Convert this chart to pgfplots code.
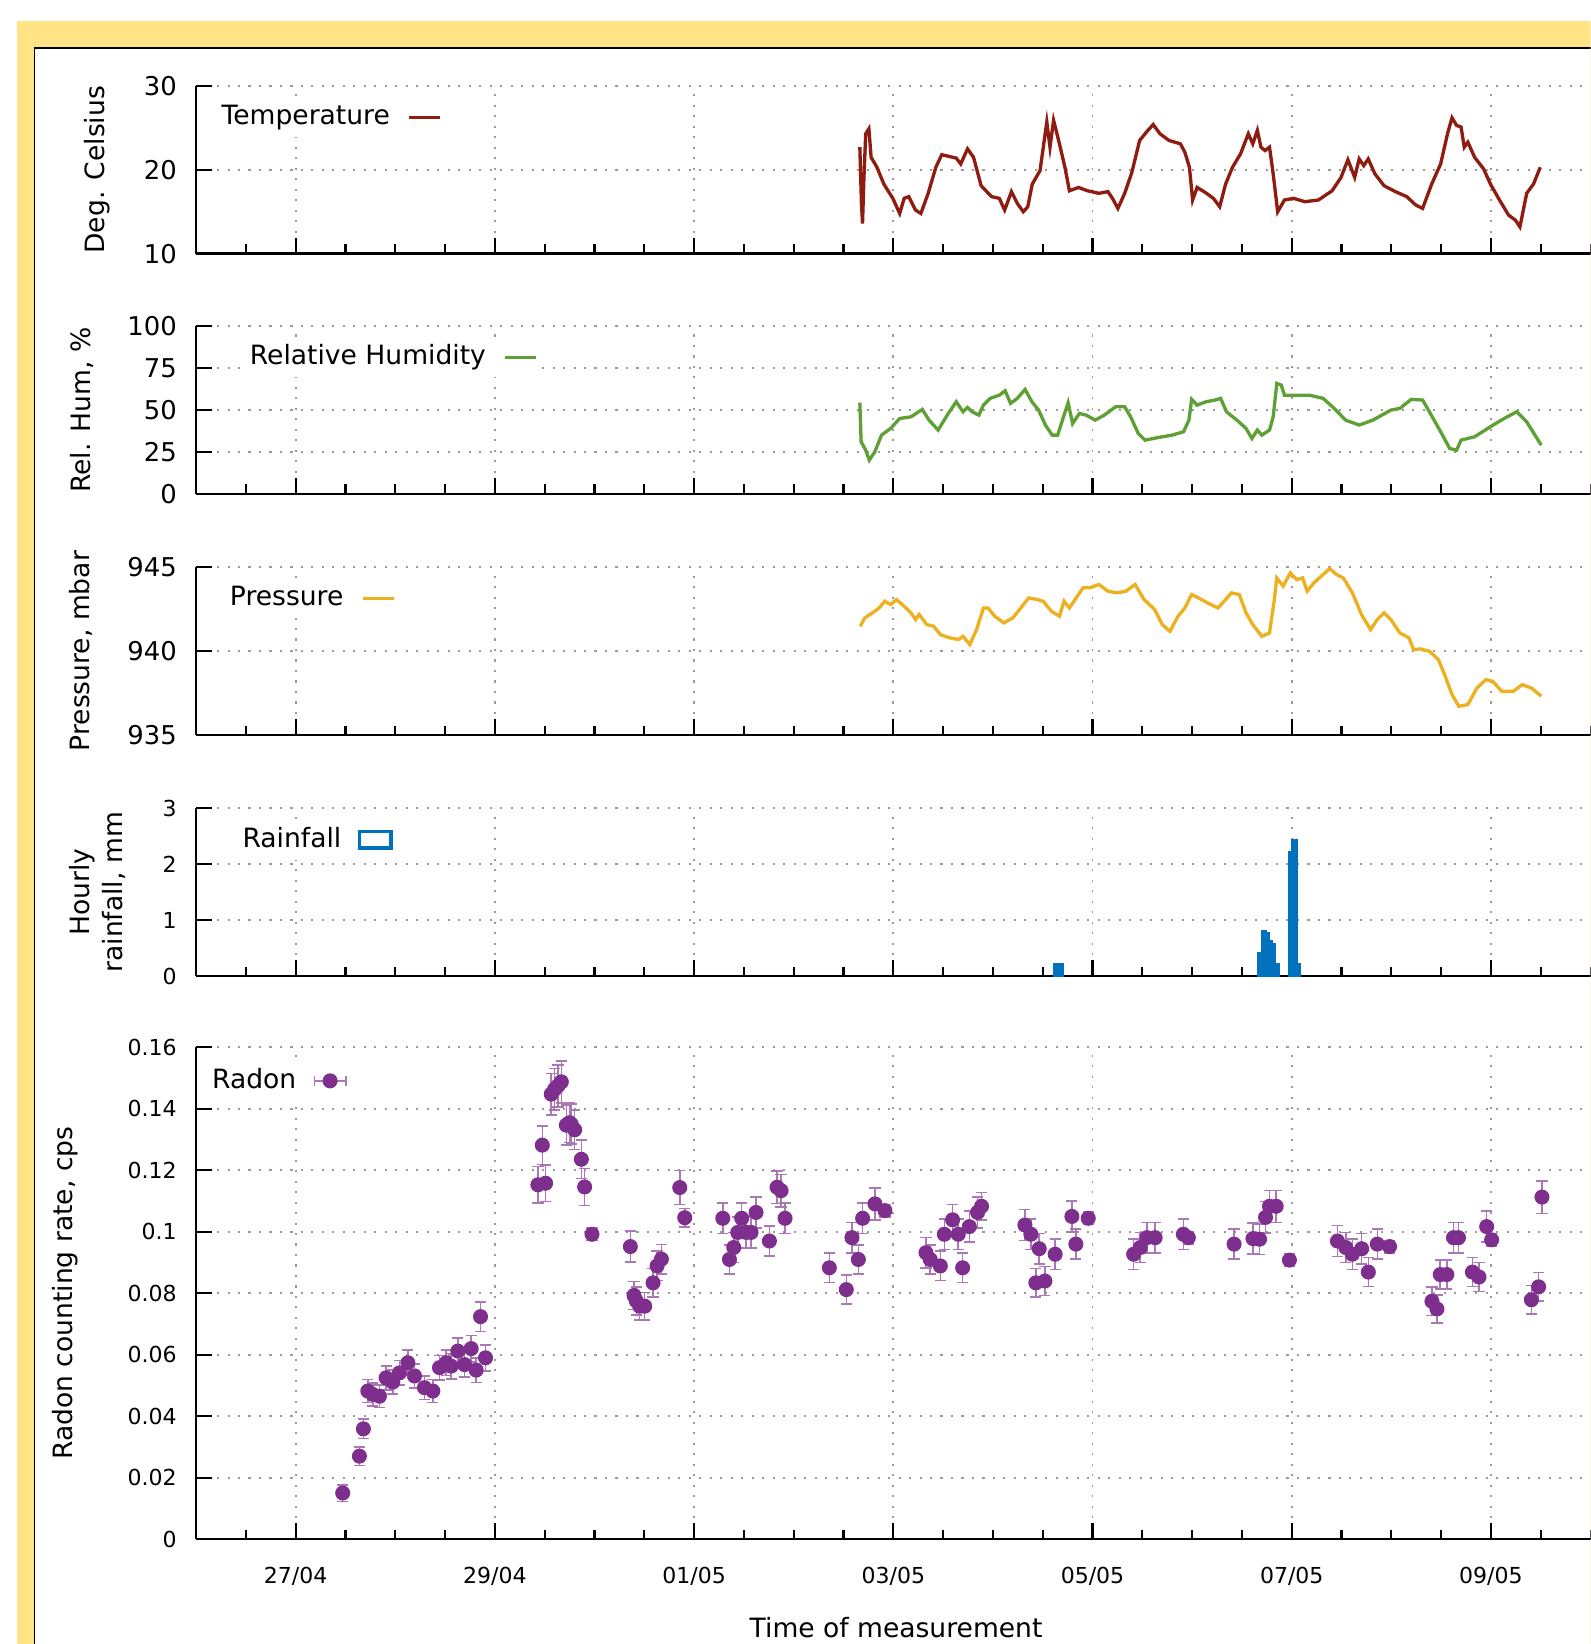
\documentclass[border=0pt]{standalone}
\usepackage{fontspec}
\setmainfont{DejaVu Sans}
\usepackage{pgfplots}
\pgfplotsset{compat=1.18}
\definecolor{bgyellow}{HTML}{FFE385}
\definecolor{tempred}{HTML}{8E1C10}
\definecolor{humgreen}{HTML}{5FA034}
\definecolor{presorange}{HTML}{EDB120}
\definecolor{rainblue}{HTML}{0072BD}
\definecolor{radonpurple}{HTML}{7E2F8E}
\definecolor{gridgray}{HTML}{9A9A9A}
\pgfplotsset{
  panel/.style={
    scale only axis, width=399pt, anchor=south west,
    xmin=0, xmax=14,
    axis lines*=left, tick align=inside,
    axis line style={line width=0.7pt, black},
    major tick length=4.5pt, minor tick length=2.7pt,
    every tick/.append style={black, line width=0.6pt},
    xtick={1,3,5,7,9,11,13},
    minor xtick={0,0.5,...,14},
    xmajorgrids, ymajorgrids,
    major grid style={gridgray, line width=0.55pt, dash pattern=on 0.6pt off 2.4pt},
    /pgf/number format/assume math mode=true,
    tick label style={font=\fontsize{7.4}{9}\selectfont},
    yticklabel style={xshift=-2pt},
    label style={font=\fontsize{7.6}{9.4}\selectfont},
    legend style={font=\fontsize{7.6}{9}\selectfont, fill=white, draw=none, inner sep=0pt, anchor=west},
    legend plot pos=right,
    legend image code/.code={\path (0pt,0pt); \draw[#1] (3pt,0pt) -- (12pt,0pt);},
  },
  smalltick/.style={tick label style={font=\fontsize{6.3}{7.5}\selectfont}},
}
\begin{document}
\begin{tikzpicture}
\useasboundingbox (0,0) rectangle (455.1pt,470.4pt);
\clip (0,0) rectangle (455.1pt,470.4pt);
\fill[white] (0,0) rectangle (455.1pt,470.4pt);
\fill[bgyellow] (4.8pt,0) rectangle (455.1pt,464.4pt);
\fill[white] (9.9pt,0) rectangle (455.1pt,456.6pt);
\draw[black, line width=0.45pt] (9.9pt,0) -- (9.9pt,456.6pt) -- (455.1pt,456.6pt);

% Temperature
\begin{axis}[panel, at={(56.1pt,397.8pt)}, height=48pt,
  ymin=10, ymax=30, ytick={10,20,30}, xticklabels={},
  ylabel={Deg. Celsius},
  ylabel style={at={(axis description cs:-0.0707,0.5)}, anchor=center},
  legend style={at={(axis description cs:0.0128,0.8125)}}]
\addplot[tempred, line width=0.95pt] table {
6.664 22.7
6.680 16.0
6.691 13.6
6.705 19.0
6.723 24.3
6.755 24.9
6.777 21.5
6.836 20.3
6.905 18.3
6.995 16.6
7.064 14.8
7.109 16.6
7.155 16.8
7.223 15.2
7.277 14.8
7.350 17.2
7.427 20.3
7.486 21.8
7.632 21.4
7.677 20.7
7.745 22.5
7.805 21.5
7.882 18.1
7.986 16.8
8.064 16.6
8.118 15.2
8.186 17.4
8.245 16.0
8.305 15.0
8.350 15.6
8.395 18.3
8.473 19.9
8.541 25.7
8.573 22.7
8.609 25.9
8.668 23.1
8.723 20.3
8.768 17.5
8.859 17.9
8.950 17.5
9.064 17.2
9.155 17.4
9.200 16.6
9.255 15.4
9.323 17.2
9.395 19.7
9.473 23.5
9.541 24.5
9.609 25.4
9.677 24.3
9.768 23.5
9.882 23.1
9.927 22.1
9.973 20.3
10.005 16.4
10.050 17.9
10.132 17.3
10.214 16.6
10.277 15.6
10.336 18.3
10.405 20.3
10.486 21.9
10.564 24.3
10.609 23.1
10.655 24.7
10.691 22.7
10.732 22.3
10.777 22.7
10.814 19.5
10.859 15.0
10.927 16.4
11.018 16.6
11.132 16.2
11.268 16.4
11.405 17.5
11.495 19.1
11.564 21.2
11.632 19.1
11.677 21.3
11.723 20.5
11.768 21.3
11.836 19.5
11.927 18.1
12.041 17.4
12.155 16.8
12.245 15.8
12.314 15.4
12.405 18.3
12.495 20.7
12.564 24.3
12.609 26.2
12.655 25.3
12.700 25.1
12.732 22.7
12.768 23.3
12.836 21.5
12.927 20.1
12.995 18.3
13.086 16.4
13.177 14.6
13.245 14.0
13.291 13.2
13.359 17.2
13.427 18.3
13.495 20.3
};
\addlegendentry{Temperature}
\end{axis}

% Relative humidity
\begin{axis}[panel, at={(56.1pt,329.1pt)}, height=48pt,
  ymin=0, ymax=100, ytick={0,25,50,75,100}, xticklabels={},
  ylabel={Rel. Hum, \%},
  ylabel style={at={(axis description cs:-0.082,0.5)}, anchor=center},
  legend style={at={(axis description cs:0.0331,0.8125)}}]
\addplot[humgreen, line width=0.95pt] table {
6.664 54.3
6.677 31.0
6.723 26.0
6.759 20.1
6.814 25.0
6.882 35.0
6.973 39.0
7.064 44.9
7.177 45.9
7.291 50.3
7.359 43.9
7.450 38.0
7.541 46.9
7.632 54.9
7.700 48.9
7.745 51.5
7.791 48.9
7.859 46.9
7.905 52.9
7.973 56.9
8.064 58.8
8.123 61.4
8.177 53.9
8.245 56.9
8.323 62.2
8.391 54.9
8.459 49.9
8.527 41.0
8.595 35.0
8.650 35.0
8.709 45.9
8.755 54.3
8.800 41.9
8.868 47.9
8.936 46.9
9.027 43.9
9.118 46.9
9.232 51.9
9.323 51.9
9.391 44.9
9.459 36.0
9.527 32.0
9.664 33.6
9.800 35.0
9.914 37.0
9.968 43.9
9.995 56.3
10.050 52.9
10.141 54.9
10.232 55.9
10.286 56.9
10.345 48.9
10.450 43.9
10.541 39.0
10.600 33.0
10.655 38.0
10.700 35.0
10.777 38.0
10.814 45.9
10.850 65.8
10.895 64.8
10.927 58.8
11.041 58.8
11.177 58.8
11.314 56.9
11.427 50.9
11.541 43.9
11.677 41.0
11.814 43.9
11.995 49.9
12.086 50.9
12.200 56.3
12.314 55.9
12.382 48.9
12.495 37.0
12.586 27.0
12.655 26.0
12.700 32.0
12.836 34.0
12.995 40.0
13.132 44.9
13.259 48.9
13.359 42.9
13.505 29.0
};
\addlegendentry{Relative Humidity}
\end{axis}

% Pressure
\begin{axis}[panel, at={(56.1pt,260.1pt)}, height=48pt,
  ymin=935, ymax=945, ytick={935,940,945}, xticklabels={},
  ylabel={Pressure, mbar},
  ylabel style={at={(axis description cs:-0.0827,0.5)}, anchor=center},
  legend style={at={(axis description cs:0.0188,0.8125)}}]
\addplot[presorange, line width=0.95pt] table {
6.668 941.48
6.714 941.98
6.791 942.28
6.859 942.57
6.914 942.97
6.973 942.77
7.032 943.07
7.109 942.67
7.177 942.28
7.223 941.88
7.259 942.18
7.336 941.58
7.405 941.48
7.473 940.98
7.564 940.79
7.655 940.69
7.700 940.88
7.768 940.39
7.836 941.28
7.905 942.57
7.950 942.57
8.018 942.08
8.109 941.68
8.200 941.98
8.268 942.48
8.359 943.17
8.450 943.07
8.505 942.97
8.586 942.38
8.668 942.08
8.714 942.97
8.768 942.57
8.836 943.17
8.905 943.77
8.973 943.77
9.064 943.97
9.155 943.57
9.245 943.47
9.336 943.57
9.427 943.97
9.518 943.07
9.623 942.48
9.700 941.58
9.777 941.18
9.859 942.08
9.927 942.57
9.995 943.37
10.064 943.17
10.155 942.87
10.259 942.57
10.336 943.07
10.395 943.47
10.473 943.37
10.541 942.28
10.609 941.58
10.700 940.88
10.777 941.08
10.823 942.97
10.850 944.36
10.914 943.87
10.986 944.66
11.050 944.26
11.109 944.36
11.155 943.57
11.223 944.07
11.314 944.56
11.382 944.92
11.450 944.56
11.518 944.36
11.609 943.47
11.700 942.18
11.791 941.28
11.859 941.88
11.927 942.28
11.995 941.88
12.086 941.08
12.177 940.79
12.223 940.09
12.291 940.13
12.382 939.99
12.473 939.49
12.541 938.50
12.609 937.41
12.677 936.71
12.768 936.81
12.859 937.80
12.950 938.30
13.018 938.20
13.109 937.60
13.223 937.60
13.314 938.00
13.405 937.80
13.505 937.31
};
\addlegendentry{Pressure}
\end{axis}

% Rainfall
\begin{axis}[panel, smalltick, at={(56.1pt,191.1pt)}, height=48pt,
  ymin=0, ymax=3, ytick={0,1,2,3}, xticklabels={},
  ylabel={Hourly\\rainfall, mm},
  ylabel style={at={(axis description cs:-0.0707,0.5)}, anchor=center, align=center},
  legend style={at={(axis description cs:0.0278,0.8125)}}]
\addplot[ybar, bar width=0.025, fill=rainblue, draw=rainblue, line width=1.2pt, forget plot] table {
8.635 0.19
8.677 0.19
10.688 0.40
10.720 0.78
10.750 0.75
10.780 0.60
10.810 0.55
10.850 0.19
11.000 2.20
11.030 2.41
11.060 0.19
};
\addlegendimage{legend image code/.code={\path (0pt,0pt); \draw[rainblue, line width=1pt] (3pt,-2.4pt) rectangle (12pt,2.4pt);}}
\addlegendentry{Rainfall}
\end{axis}

% Radon
\begin{axis}[panel, smalltick, at={(56.1pt,30pt)}, height=140.7pt,
  ymin=0, ymax=0.16, ytick={0,0.02,0.04,0.06,0.08,0.1,0.12,0.14,0.16},
  yticklabels={0,0.02,0.04,0.06,0.08,0.1,0.12,0.14,0.16},
  xticklabels={27/04,29/04,01/05,03/05,05/05,07/05,09/05},
  xticklabel style={yshift=-4.5pt},
  ylabel={Radon counting rate, cps},
  ylabel style={at={(axis description cs:-0.094,0.5)}, anchor=center},
  xlabel={Time of measurement},
  xlabel style={at={(axis description cs:0.502,-0.2)}, anchor=base},
  legend style={at={(axis description cs:0.006,0.932)}}]
\addplot[only marks, mark=*, mark size=1.95pt, color=radonpurple, forget plot,
  error bars/.cd, y dir=both, y explicit,
  error bar style={radonpurple!65, line width=0.45pt},
  error mark options={rotate=90, radonpurple!65, mark size=1.6pt, line width=0.45pt}]
  table[x index=0, y index=1, y error index=2] {
1.472 0.0150 0.0027
1.640 0.0270 0.0030
1.680 0.0359 0.0032
1.724 0.0482 0.0037
1.774 0.0471 0.0037
1.841 0.0465 0.0037
1.908 0.0525 0.0039
1.975 0.0511 0.0039
2.042 0.0541 0.0040
2.126 0.0574 0.0041
2.193 0.0531 0.0039
2.293 0.0493 0.0038
2.377 0.0482 0.0037
2.444 0.0558 0.0040
2.511 0.0574 0.0041
2.561 0.0563 0.0041
2.628 0.0612 0.0042
2.695 0.0568 0.0041
2.762 0.0620 0.0043
2.812 0.0550 0.0040
2.856 0.0724 0.0048
2.906 0.0590 0.0042
3.432 0.1153 0.0060
3.476 0.1282 0.0063
3.509 0.1158 0.0060
3.566 0.1448 0.0067
3.600 0.1464 0.0068
3.633 0.1475 0.0068
3.667 0.1488 0.0068
3.717 0.1347 0.0065
3.750 0.1355 0.0065
3.767 0.1350 0.0065
3.801 0.1332 0.0064
3.868 0.1236 0.0062
3.901 0.1146 0.0060
3.975 0.0992 0.0020
4.360 0.0952 0.0050
4.397 0.0793 0.0046
4.420 0.0775 0.0045
4.454 0.0758 0.0045
4.504 0.0758 0.0045
4.588 0.0834 0.0047
4.628 0.0889 0.0048
4.672 0.0911 0.0048
4.856 0.1144 0.0055
4.906 0.1046 0.0030
5.288 0.1044 0.0050
5.355 0.0910 0.0048
5.398 0.0949 0.0049
5.438 0.0998 0.0050
5.478 0.1044 0.0050
5.522 0.0998 0.0050
5.572 0.0998 0.0050
5.622 0.1063 0.0051
5.756 0.0970 0.0049
5.833 0.1145 0.0053
5.873 0.1134 0.0053
5.913 0.1044 0.0050
6.358 0.0883 0.0048
6.528 0.0812 0.0047
6.585 0.0981 0.0050
6.649 0.0910 0.0048
6.692 0.1044 0.0050
6.816 0.1091 0.0052
6.916 0.1069 0.0020
7.328 0.0932 0.0049
7.371 0.0910 0.0048
7.472 0.0889 0.0048
7.512 0.0992 0.0050
7.595 0.1039 0.0050
7.652 0.0992 0.0050
7.696 0.0883 0.0048
7.763 0.1017 0.0050
7.846 0.1063 0.0051
7.886 0.1083 0.0045
8.321 0.1022 0.0050
8.381 0.0992 0.0050
8.431 0.0834 0.0047
8.465 0.0945 0.0049
8.522 0.0840 0.0047
8.625 0.0927 0.0049
8.793 0.1050 0.0051
8.833 0.0960 0.0049
8.957 0.1044 0.0020
9.413 0.0927 0.0049
9.479 0.0949 0.0049
9.546 0.0981 0.0050
9.629 0.0981 0.0050
9.912 0.0992 0.0050
9.962 0.0981 0.0020
10.421 0.0960 0.0049
10.611 0.0978 0.0050
10.677 0.0976 0.0050
10.737 0.1047 0.0051
10.777 0.1083 0.0052
10.844 0.1083 0.0052
10.977 0.0908 0.0020
11.459 0.0970 0.0050
11.542 0.0949 0.0049
11.609 0.0927 0.0049
11.702 0.0945 0.0049
11.769 0.0869 0.0047
11.859 0.0960 0.0049
11.982 0.0952 0.0020
12.408 0.0774 0.0046
12.458 0.0749 0.0045
12.491 0.0861 0.0047
12.557 0.0861 0.0047
12.624 0.0981 0.0050
12.674 0.0981 0.0050
12.814 0.0869 0.0047
12.880 0.0853 0.0047
12.957 0.1017 0.0050
13.007 0.0974 0.0020
13.406 0.0779 0.0046
13.479 0.0821 0.0047
13.512 0.1113 0.0053
};
\addlegendimage{legend image code/.code={
  \path (0pt,0pt);
  \draw[radonpurple!65, line width=0.45pt] (3pt,0pt) -- (12pt,0pt) (3pt,-1.5pt) -- (3pt,1.5pt) (12pt,-1.5pt) -- (12pt,1.5pt);
  \fill[radonpurple] (7.5pt,0pt) circle (1.95pt);}}
\addlegendentry{Radon}
\end{axis}
\end{tikzpicture}
\end{document}
